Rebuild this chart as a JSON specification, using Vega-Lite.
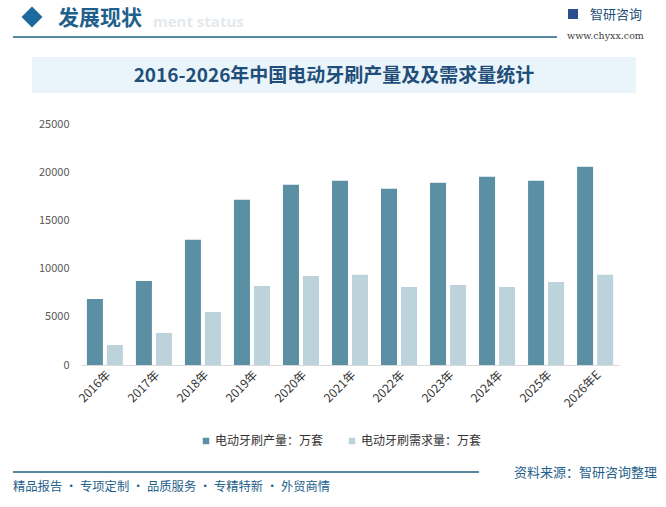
{
  "$schema": "https://vega.github.io/schema/vega-lite/v6.json",
  "background": "white",
  "padding": {"left": 12, "top": 0, "right": 0, "bottom": 0},
  "config": {
    "view": {"stroke": null},
    "font": "Noto Sans CJK SC"
  },
  "spacing": 0,
  "resolve": {"scale": {"x": "independent", "y": "independent", "color": "independent"}},
  "vconcat": [
    {
      "width": 538,
      "height": 45,
      "data": {"values": [{"k": 1}]},
      "layer": [
        {
          "mark": {"type": "rule", "color": "#1F6080", "strokeWidth": 1.6},
          "encoding": {
            "x": {"datum": 12, "type": "quantitative", "scale": {"domain": [80, 618], "nice": false, "zero": false}, "axis": null},
            "x2": {"datum": 556},
            "y": {"datum": 37, "type": "quantitative", "scale": {"domain": [0, 45], "reverse": true, "nice": false, "zero": false}, "axis": null}
          }
        },
        {
          "mark": {"type": "text", "text": "ment status", "align": "left", "baseline": "middle", "font": "Open Sans", "fontWeight": "bold", "fontSize": 15, "color": "#E4E9ED"},
          "encoding": {
            "x": {"datum": 152, "type": "quantitative"},
            "y": {"datum": 22, "type": "quantitative"}
          }
        },
        {
          "mark": {"type": "point", "shape": "diamond", "filled": true, "size": 440, "color": "#1E6A9C", "opacity": 1},
          "encoding": {
            "x": {"datum": 31, "type": "quantitative"},
            "y": {"datum": 17, "type": "quantitative"}
          }
        },
        {
          "mark": {"type": "text", "text": "发展现状", "align": "left", "baseline": "middle", "fontSize": 21, "fontWeight": "bold", "color": "#1F5F8C"},
          "encoding": {
            "x": {"datum": 57, "type": "quantitative"},
            "y": {"datum": 18.5, "type": "quantitative"}
          }
        },
        {
          "mark": {"type": "point", "shape": "square", "filled": true, "size": 100, "color": "#2B4F8E", "opacity": 1},
          "encoding": {
            "x": {"datum": 572, "type": "quantitative"},
            "y": {"datum": 14, "type": "quantitative"}
          }
        },
        {
          "mark": {"type": "text", "text": "智研咨询", "align": "left", "baseline": "middle", "fontSize": 13, "color": "#1F4E79"},
          "encoding": {
            "x": {"datum": 589, "type": "quantitative"},
            "y": {"datum": 15, "type": "quantitative"}
          }
        },
        {
          "mark": {"type": "text", "text": "www.chyxx.com", "align": "left", "baseline": "middle", "font": "DejaVu Serif", "fontSize": 9.5, "color": "#404040"},
          "encoding": {
            "x": {"datum": 566, "type": "quantitative"},
            "y": {"datum": 36, "type": "quantitative"}
          }
        }
      ]
    },
    {
      "width": 538,
      "height": 73,
      "data": {"values": [{"k": 1}]},
      "layer": [
        {
          "mark": {"type": "rect", "color": "#EAF4FB"},
          "encoding": {
            "x": {"datum": 31, "type": "quantitative", "scale": {"domain": [80, 618], "nice": false, "zero": false}, "axis": null},
            "x2": {"datum": 635},
            "y": {"datum": 57, "type": "quantitative", "scale": {"domain": [45, 118], "reverse": true, "nice": false, "zero": false}, "axis": null},
            "y2": {"datum": 93}
          }
        },
        {
          "mark": {"type": "text", "text": "2016-2026年中国电动牙刷产量及及需求量统计", "align": "center", "baseline": "middle", "fontSize": 19, "fontWeight": "bold", "color": "#1F4E79"},
          "encoding": {
            "x": {"datum": 333, "type": "quantitative"},
            "y": {"datum": 76, "type": "quantitative"}
          }
        }
      ]
    },
    {
      "width": 538,
      "height": 241,
      "data": {
        "values": [
          {"year": "2016年", "series": "电动牙刷产量：万套", "value": 6850},
          {"year": "2017年", "series": "电动牙刷产量：万套", "value": 8720},
          {"year": "2018年", "series": "电动牙刷产量：万套", "value": 12980},
          {"year": "2019年", "series": "电动牙刷产量：万套", "value": 17140},
          {"year": "2020年", "series": "电动牙刷产量：万套", "value": 18700},
          {"year": "2021年", "series": "电动牙刷产量：万套", "value": 19110},
          {"year": "2022年", "series": "电动牙刷产量：万套", "value": 18280},
          {"year": "2023年", "series": "电动牙刷产量：万套", "value": 18900},
          {"year": "2024年", "series": "电动牙刷产量：万套", "value": 19530},
          {"year": "2025年", "series": "电动牙刷产量：万套", "value": 19110},
          {"year": "2026年E", "series": "电动牙刷产量：万套", "value": 20570},
          {"year": "2016年", "series": "电动牙刷需求量：万套", "value": 2080},
          {"year": "2017年", "series": "电动牙刷需求量：万套", "value": 3320},
          {"year": "2018年", "series": "电动牙刷需求量：万套", "value": 5500},
          {"year": "2019年", "series": "电动牙刷需求量：万套", "value": 8200},
          {"year": "2020年", "series": "电动牙刷需求量：万套", "value": 9240},
          {"year": "2021年", "series": "电动牙刷需求量：万套", "value": 9350},
          {"year": "2022年", "series": "电动牙刷需求量：万套", "value": 8100},
          {"year": "2023年", "series": "电动牙刷需求量：万套", "value": 8310},
          {"year": "2024年", "series": "电动牙刷需求量：万套", "value": 8100},
          {"year": "2025年", "series": "电动牙刷需求量：万套", "value": 8620},
          {"year": "2026年E", "series": "电动牙刷需求量：万套", "value": 9350}
        ]
      },
      "mark": "bar",
      "encoding": {
        "x": {
          "field": "year",
          "type": "nominal",
          "sort": null,
          "scale": {"paddingInner": 0.265, "paddingOuter": 0.12},
          "axis": {
            "title": null,
            "labelAngle": -45,
            "labelFontSize": 12,
            "labelColor": "#333333",
            "domainColor": "#D9D9D9",
            "ticks": false,
            "labelPadding": 4
          }
        },
        "xOffset": {
          "field": "series",
          "type": "nominal",
          "sort": null,
          "scale": {"paddingInner": 0.2}
        },
        "y": {
          "field": "value",
          "type": "quantitative",
          "scale": {"domain": [0, 25000], "nice": false},
          "axis": {
            "title": null,
            "values": [0, 5000, 10000, 15000, 20000, 25000],
            "format": "d",
            "domain": false,
            "ticks": false,
            "grid": false,
            "labelColor": "#595959",
            "labelFontSize": 11,
            "labelPadding": 12
          }
        },
        "color": {
          "field": "series",
          "type": "nominal",
          "sort": null,
          "scale": {"range": ["#5B8FA3", "#BDD3DC"]},
          "legend": {
            "title": null,
            "orient": "none",
            "legendX": 119,
            "legendY": 311,
            "direction": "horizontal",
            "symbolType": "square",
            "symbolSize": 42,
            "symbolStrokeWidth": 0,
            "labelFontSize": 12,
            "labelColor": "#333333",
            "labelOffset": 3,
            "columnPadding": 22
          }
        },
        "tooltip": [
          {"field": "year", "type": "nominal", "title": "年份"},
          {"field": "series", "type": "nominal", "title": "指标"},
          {"field": "value", "type": "quantitative", "title": "数值"}
        ]
      }
    },
    {
      "width": 538,
      "height": 57,
      "data": {"values": [{"k": 1}]},
      "layer": [
        {
          "mark": {"type": "rule", "color": "#1F6080", "strokeWidth": 1.4},
          "encoding": {
            "x": {"datum": 12, "type": "quantitative", "scale": {"domain": [80, 618], "nice": false, "zero": false}, "axis": null},
            "x2": {"datum": 478},
            "y": {"datum": 475, "type": "quantitative", "scale": {"domain": [450, 507], "reverse": true, "nice": false, "zero": false}, "axis": null}
          }
        },
        {
          "mark": {"type": "text", "text": "资料来源：智研咨询整理", "align": "right", "baseline": "middle", "fontSize": 13, "color": "#1F5F8C"},
          "encoding": {
            "x": {"datum": 656, "type": "quantitative"},
            "y": {"datum": 476, "type": "quantitative"}
          }
        },
        {
          "mark": {"type": "text", "text": "精品报告 · 专项定制 · 品质服务 · 专精特新 · 外贸商情", "align": "left", "baseline": "middle", "fontSize": 12.3, "color": "#1F5F8C"},
          "encoding": {
            "x": {"datum": 12, "type": "quantitative"},
            "y": {"datum": 490, "type": "quantitative"}
          }
        }
      ]
    }
  ]
}
